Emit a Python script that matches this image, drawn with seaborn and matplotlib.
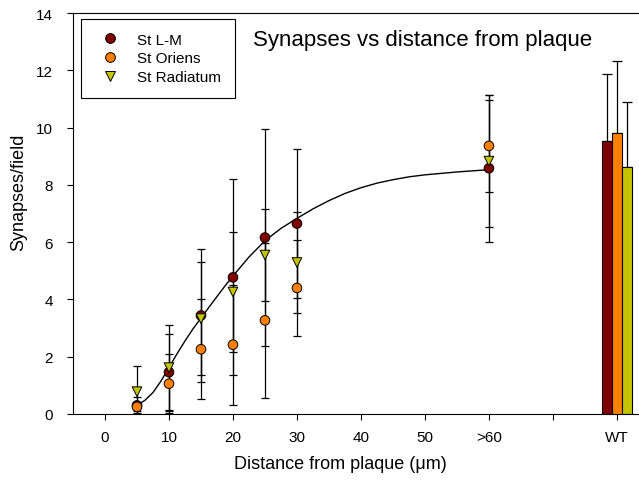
import pandas as pd
import matplotlib
matplotlib.use("Agg")
import matplotlib.pyplot as plt
from matplotlib.lines import Line2D
import seaborn as sns

# --- values ---
distance = [5, 10, 15, 20, 25, 30, 60]

lm_mean = [0.30, 1.46, 3.44, 4.77, 6.16, 6.65, 8.58]
lm_err = [0.28, 1.34, 2.32, 3.42, 3.78, 2.60, 2.57]

oriens_mean = [0.25, 1.06, 2.26, 2.42, 3.27, 4.40, 9.36]
oriens_err = [0.15, 1.04, 1.75, 2.10, 2.70, 1.67, 1.60]

radiatum_mean = [0.78, 1.62, 3.33, 4.26, 5.55, 5.29, 8.83]
radiatum_err = [0.90, 1.48, 1.97, 2.10, 1.60, 1.77, 2.30]

# wild type bars (St L-M, St Oriens, St Radiatum)
wt_mean = [9.53, 9.80, 8.61]
wt_err = [2.35, 2.53, 2.30]

# fitted curve
fit_x = [5, 6.25, 7.5, 8.75, 10, 11.25, 12.5, 13.75, 15, 16.25, 17.5, 18.75, 20,
         22.5, 25, 27.5, 30, 32.5, 35, 37.5, 40, 42.5, 45, 47.5, 50, 55, 60]
fit_y = [0.30, 0.48, 0.75, 1.15, 1.62, 2.10, 2.55, 2.97, 3.35, 3.73, 4.10, 4.47, 4.82,
         5.48, 6.05, 6.48, 6.83, 7.16, 7.45, 7.70, 7.90, 8.06, 8.18, 8.28, 8.35, 8.45, 8.53]

layers = ["St L-M", "St Oriens", "St Radiatum"]
tick_values = [0, 10, 20, 30, 40, 50, 60, 70, 80]
tick_labels = ["0", "10", "20", "30", "40", "50", ">60", "", "WT"]

colors = {"St L-M": "#800000", "St Oriens": "#ff8000", "St Radiatum": "#c4c400"}
markers = {"St L-M": "o", "St Oriens": "o", "St Radiatum": "v"}

means = [lm_mean, oriens_mean, radiatum_mean]
errs = [lm_err, oriens_err, radiatum_err]
df = pd.concat(
    [pd.DataFrame({"distance": distance, "mean": m, "err": e, "layer": name})
     for name, m, e in zip(layers, means, errs)],
    ignore_index=True,
)

# --- style ---
sns.set_theme(style="ticks", rc={"text.color": "black", "axes.labelcolor": "black",
                                 "xtick.color": "black", "ytick.color": "black"})
plt.rcParams["font.family"] = ["Liberation Sans", "DejaVu Sans"]

fig = plt.figure(figsize=(6.39, 4.85), dpi=100)
ax = fig.add_axes([73 / 639, 70 / 485, 566 / 639, 401 / 485])

# error bars under the markers
for name in layers:
    sub = df[df["layer"] == name]
    ax.errorbar(sub["distance"], sub["mean"], yerr=sub["err"], fmt="none",
                ecolor="black", elinewidth=0.9, capsize=3, capthick=0.9, zorder=2)

# fitted curve
sns.lineplot(x=fit_x, y=fit_y, color="black", linewidth=1.0, ax=ax, zorder=2.5)

# points
sns.scatterplot(data=df, x="distance", y="mean", hue="layer", style="layer",
                palette=colors, markers=markers, s=48, edgecolor="black",
                linewidth=0.7, legend=False, ax=ax, zorder=3)

# WT bars
bar_w = 1.6
bar_x = [80 - bar_w, 80, 80 + bar_w]
ax.bar(bar_x, wt_mean, width=bar_w, color=[colors[n] for n in layers],
       edgecolor="black", linewidth=0.8, zorder=2)
ax.errorbar(bar_x, wt_mean, yerr=[[0, 0, 0], wt_err], fmt="none", ecolor="black",
            elinewidth=0.9, capsize=3.8, capthick=0.9, zorder=1.5)

# axes
ax.set_xlim(-5, 83.45)
ax.set_ylim(0, 14)
ax.set_xticks(tick_values)
ax.set_xticklabels(tick_labels)
ax.set_yticks(range(0, 15, 2))
ax.tick_params(direction="out", length=4.3, width=0.8, labelsize=11,
               colors="black", labelcolor="black")
ax.tick_params(axis="y", pad=10)
ax.tick_params(axis="x", pad=7)
for side in ["left", "bottom", "top"]:
    ax.spines[side].set_color("black")
    ax.spines[side].set_linewidth(0.8)
ax.spines["right"].set_visible(False)

ax.set_xlabel("Distance from plaque (\u03bcm)", fontsize=13, color="black")
ax.set_ylabel("Synapses/field", fontsize=13, color="black")
ax.xaxis.set_label_coords((340 - 73) / 566, (415 - 456) / 401)
ax.yaxis.set_label_coords((27 - 73) / 566, (415 - 192) / 401)

ax.text(23.1, 12.89, "Synapses vs distance from plaque", fontsize=16,
        ha="left", va="baseline", color="black")

handles = [Line2D([], [], ls="none", marker=markers[n], markersize=7,
                  markerfacecolor=colors[n], markeredgecolor="black",
                  markeredgewidth=0.7) for n in layers]
leg = ax.legend(handles, layers, loc="upper left", bbox_to_anchor=(0.014, 0.985),
                borderaxespad=0, frameon=True, fancybox=False, edgecolor="black",
                framealpha=1, fontsize=11, handlelength=2.0, handletextpad=0.8,
                borderpad=0.9, labelspacing=0.3)
leg.get_frame().set_linewidth(0.8)
for t in leg.get_texts():
    t.set_color("black")

plt.savefig("out.png", dpi=100)
